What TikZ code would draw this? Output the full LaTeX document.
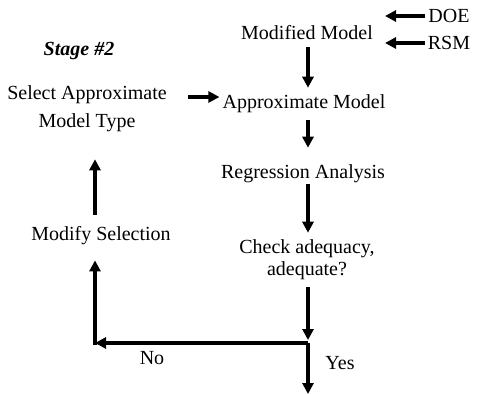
\documentclass[tikz,border=0pt]{standalone}
\usepackage{fontspec}
\setmainfont{Liberation Serif}
\usetikzlibrary{arrows.meta,positioning,calc}

\begin{document}
\begin{tikzpicture}[x=1pt,y=-1pt,>={Triangle[length=11pt,width=11pt]},
    every node/.style={align=center,inner sep=1pt,font=\fontsize{20}{22}\selectfont},
    flow/.style={->,line width=3.5pt,shorten <=6pt,shorten >=6pt}]
    \useasboundingbox (0,0) rectangle (479,394);
    \node (mod) at (307,33) {Modified Model};
    \node (doe) at (449,16) {DOE};
    \node (rsm) at (449,43) {RSM};
    \node (stage) at (79,51) {\textbf{\textit{Stage \#2}}};
    \node (sel) at (87,109) {Select Approximate\\[6pt]Model Type};
    \node (appr) at (304,104) {Approximate Model};
    \node (reg) at (303,174) {Regression Analysis};
    \node (chk) at (307,260) {Check adequacy,\\adequate?};
    \node (ms) at (101,236) {Modify Selection};
    \node (no) at (152,358) {No};
    \node (yes) at (340,363) {Yes};
    \coordinate (j) at (308,343);
    \coordinate (c) at (95,343);
    \coordinate (e) at (308,394);
    \draw[flow,shorten <=2pt,shorten >=11pt] (doe.west) -- (doe.west -| mod.east);
    \draw[flow,shorten <=2pt,shorten >=11pt] (rsm.west) -- (rsm.west -| mod.east);
    \draw[flow] (mod.south -| j) -- (appr.north -| j);
    \draw[flow,shorten <=20pt,shorten >=2pt] (sel.east |- 0,97) -- (appr.west |- 0,97);
    \draw[flow,shorten >=16pt] (appr.south -| j) -- (reg.north -| j);
    \draw[flow,shorten <=0pt] (reg.south -| j) -- (chk.north -| j);
    \draw[flow,shorten >=3pt] (chk.south -| j) -- (j);
    \draw[flow,shorten <=0pt,shorten >=0pt] (j) -- (c);
    \draw[flow,shorten <=-1.75pt,shorten >=14pt] (c) -- (c |- ms.south);
    \draw[flow,shorten <=0pt,shorten >=0pt] (j) -- (e);
    \draw[flow,shorten <=11pt,shorten >=26pt] (ms.north -| c) -- (sel.south -| c);
\end{tikzpicture}
\end{document}
